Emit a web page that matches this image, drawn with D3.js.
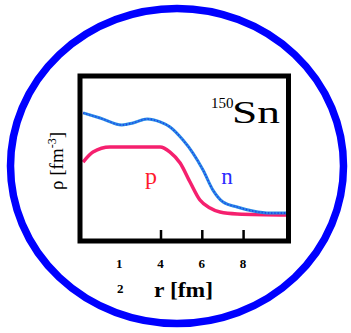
<!DOCTYPE html>
<html><head><meta charset="utf-8">
<script src="https://cdn.jsdelivr.net/npm/d3@7"></script>
<style>html,body{margin:0;padding:0;background:#fff;}svg{display:block;}</style>
</head><body>
<svg id="chart" width="351" height="333"></svg>
<script>
// radius r [fm]
const neutronR = [0.25,1.07,2.13,2.67,3.35,3.98,4.46,5.09,5.57,6.06,6.54,7.03,7.71,8.48,9.31,10.18];
const neutronRho = [0.0809,0.0769,0.0714,0.0730,0.0761,0.0738,0.0698,0.0595,0.0493,0.0359,0.0201,0.0107,0.0068,0.0036,0.0020,0.0020];
const protonR = [0.25,0.73,1.55,2.38,3.98,4.46,4.95,5.43,5.91,6.40,6.88,7.71,10.18];
const protonRho = [0.0422,0.0501,0.0541,0.0541,0.0541,0.0501,0.0415,0.0265,0.0123,0.0060,0.0028,0.0013,0.0005];
const tickValues = [4,6,8];
const tickLabels = ["1","4","6","8"];
const tickLabelPos = [2,4,6,8];

const svg = d3.select("#chart");
svg.append("ellipse").attr("cx",177).attr("cy",166).attr("rx",166.5).attr("ry",157.5)
  .attr("fill","#fff").attr("stroke","#0000ff").attr("stroke-width",7.5);

const x = d3.scaleLinear().domain([0.1,10.2]).range([80,288.5]);
const y = d3.scaleLinear().domain([-0.02,0.11]).range([241,76]);

// ticks
const axis = d3.axisBottom(x).tickValues(tickValues).tickSize(-11).tickFormat("");
const ag = svg.append("g").attr("transform","translate(0,241)").call(axis);
ag.select(".domain").remove();
ag.selectAll(".tick line").attr("stroke","#000").attr("stroke-width",2.5);

const line = d3.line().x(d=>x(d[0])).y(d=>y(d[1])).curve(d3.curveMonotoneX);
const nData = neutronR.map((r,i)=>[r,neutronRho[i]]);
const pData = protonR.map((r,i)=>[r,protonRho[i]]);
svg.append("path").attr("d",line(pData)).attr("fill","none").attr("stroke","#f5206e").attr("stroke-width",3.5);
svg.append("path").attr("d",line(nData)).attr("fill","none").attr("stroke","#2a8ae6").attr("stroke-width",3);
svg.append("path").attr("d",line(nData)).attr("fill","none").attr("stroke","#1f3fe8").attr("stroke-width",1.6).attr("stroke-dasharray","1.2,2");

// frame
svg.append("rect").attr("x",x(0.1)).attr("y",y(0.11)).attr("width",x(10.2)-x(0.1)).attr("height",y(-0.02)-y(0.11))
  .attr("fill","none").attr("stroke","#000").attr("stroke-width",5);

// tick labels
svg.selectAll("text.tl").data(tickLabels).enter().append("text").attr("class","tl")
  .attr("x",(d,i)=>x(tickLabelPos[i])).attr("y",268).attr("text-anchor","middle")
  .attr("font-family","Liberation Serif, serif").attr("font-weight","bold").attr("font-size",13).text(d=>d);
svg.append("text").attr("x",x(2)+1).attr("y",293).attr("text-anchor","middle")
  .attr("font-family","Liberation Serif, serif").attr("font-weight","bold").attr("font-size",13).text("2");
svg.append("text").attr("x",154).attr("y",297)
  .attr("font-family","Liberation Serif, serif").attr("font-weight","bold").attr("font-size",20)
  .attr("textLength",59).attr("lengthAdjust","spacingAndGlyphs").text("r [fm]");

// y label
const yl = svg.append("text").attr("transform","translate(63,161) rotate(-90)").attr("text-anchor","middle")
  .attr("font-family","Liberation Serif, serif").attr("font-size",19);
yl.append("tspan").text("ρ [fm");
yl.append("tspan").attr("dy",-7).attr("font-size",12).text("-3");
yl.append("tspan").attr("dy",7).text("]");

// isotope label
svg.append("text").attr("x",211).attr("y",108).attr("font-family","Liberation Serif, serif")
  .attr("font-size",15).text("150");
svg.append("text").attr("x",232).attr("y",123).attr("font-family","Liberation Serif, serif")
  .attr("font-size",32).attr("textLength",48).attr("lengthAdjust","spacingAndGlyphs").text("Sn");

svg.append("text").attr("x",151).attr("y",184).attr("text-anchor","middle").attr("fill","#ff1a2e")
  .attr("font-family","Liberation Serif, serif").attr("font-size",24).text("p");
svg.append("text").attr("x",227).attr("y",184).attr("text-anchor","middle").attr("fill","#2a2aff")
  .attr("font-family","Liberation Serif, serif").attr("font-size",23).text("n");
</script>
</body></html>
